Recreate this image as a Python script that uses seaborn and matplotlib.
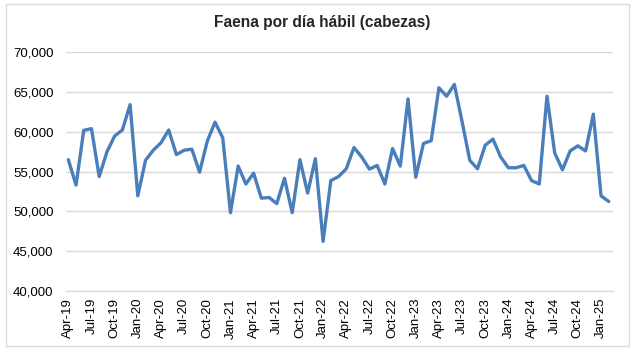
import matplotlib
matplotlib.use("Agg")
import matplotlib.pyplot as plt
from matplotlib.patches import Rectangle
from matplotlib.ticker import FuncFormatter
import seaborn as sns
import pandas as pd
import numpy as np

months = pd.date_range("2019-04-01", "2025-02-01", freq="MS").strftime("%b-%y").tolist()
faena = [
    56480, 53300, 60170, 60380, 54360, 57460, 59450, 60210, 63390,
    51950, 56400, 57670, 58600, 60210, 57120, 57670, 57800, 54920, 58810, 61190, 59240,
    49830, 55680, 53430, 54790, 51650, 51740, 50970, 54150, 49830, 56480, 52290, 56610,
    46230, 53860, 54360, 55340, 58010, 56820, 55300, 55760, 53430, 57880, 55680, 64110,
    54280, 58520, 58860, 65510, 64450, 65930, 61270, 56400, 55340, 58300, 59070, 56820,
    55470, 55470, 55760, 53860, 53430, 64450, 57330, 55210, 57580, 58220, 57580, 62200,
    51950, 51230,
]
yticks = [40000, 45000, 50000, 55000, 60000, 65000, 70000]

df = pd.DataFrame({"idx": np.arange(len(months)), "mes": months, "faena": faena})

sns.set_style("white")
plt.rcParams["font.family"] = ["Liberation Sans", "DejaVu Sans"]

fig = plt.figure(figsize=(6.4, 3.53), dpi=100)
ax = fig.add_axes([66 / 640, 1 - 291 / 353, (613 - 66) / 640, (291 - 52) / 353])

sns.lineplot(data=df, x="idx", y="faena", ax=ax, color="#4a7ebb", linewidth=2.4)

ax.set_ylim(40000, 70000)
ax.set_xlim(-0.3, len(months) - 0.45)
ax.set_yticks(yticks)
ax.yaxis.set_major_formatter(FuncFormatter(lambda v, p: f"{int(v):,}"))
tick_idx = list(range(0, len(months), 3))
ax.set_xticks(tick_idx)
ax.set_xticklabels([months[i] for i in tick_idx], rotation=90)
ax.tick_params(axis="both", length=0, labelsize=9.5, colors="#000000")
ax.tick_params(axis="y", pad=9)
ax.tick_params(axis="x", pad=5)
ax.grid(axis="y", color="#d9d9d9", linewidth=1)
ax.grid(axis="x", visible=False)
for s in ["top", "right", "left"]:
    ax.spines[s].set_visible(False)
ax.spines["bottom"].set_color("#d9d9d9")
ax.set_xlabel("")
ax.set_ylabel("")
ax.set_axisbelow(True)

fig.text(322 / 640, 1 - 23 / 353, "Faena por día hábil (cabezas)", ha="center", va="center",
         fontsize=11.2, fontweight="bold")

fig.patches.append(Rectangle((6 / 640, 1 - 346 / 353), (629 - 6) / 640, (346 - 4) / 353,
                             transform=fig.transFigure, fill=False, edgecolor="#d9d9d9",
                             linewidth=1))

fig.savefig("out.png", dpi=100, facecolor="white")
